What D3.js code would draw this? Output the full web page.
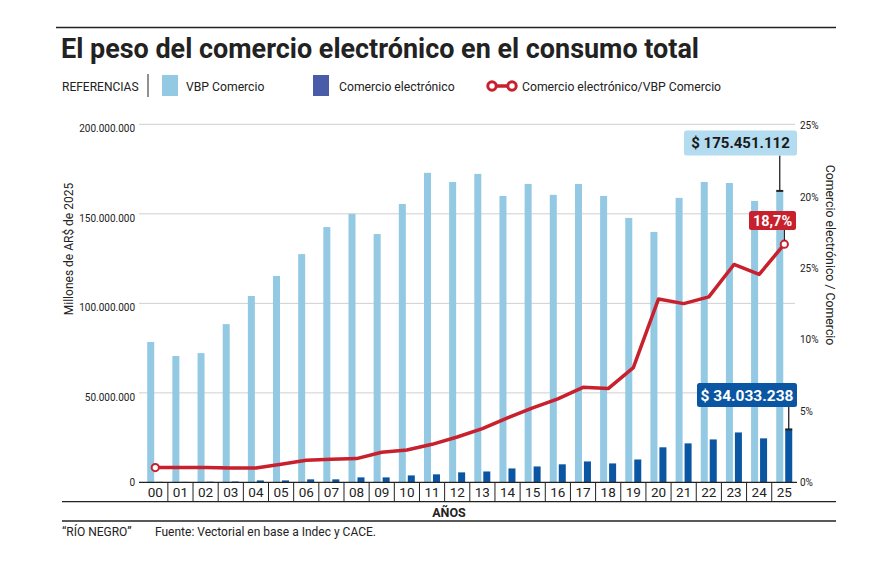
<!DOCTYPE html>
<html>
<head>
<meta charset="utf-8">
<script src="https://cdn.jsdelivr.net/npm/d3@7"></script>
<style>
  body { margin: 0; background: #fff; }
  svg { display: block; font-family: Roboto, "Noto Sans", sans-serif; }
</style>
</head>
<body>
<svg id="chart" width="893" height="577"></svg>
<script>
// data (millones de AR$ de 2025 y porcentaje)
var years = ["00","01","02","03","04","05","06","07","08","09","10","11","12",
             "13","14","15","16","17","18","19","20","21","22","23","24","25"];
var vbpComercio = [78.4, 70.6, 72.2, 88.4, 104.1, 115.3, 127.5, 142.6, 150.0, 138.7, 155.5, 172.9, 167.8,
                   172.3, 160.0, 166.7, 160.6, 166.7, 160.0, 147.7, 139.9, 158.9, 167.8, 167.2, 157.2, 162.8];
var comercioElectronico = [0.3, 0.3, 0.4, 0.5, 1.1, 1.1, 1.7, 1.7, 2.8, 2.8, 3.9, 4.5, 5.6,
                           6.1, 7.8, 8.9, 10.1, 11.7, 10.6, 12.8, 19.6, 21.8, 24.0, 27.9, 24.6, 29.6];
var ratio = [1.05, 1.05, 1.05, 1.02, 1.02, 1.28, 1.56, 1.63, 1.68, 2.12, 2.28, 2.68, 3.19,
             3.78, 4.53, 5.23, 5.86, 6.67, 6.58, 8.05, 12.86, 12.53, 13.0, 15.27, 14.57, 16.69];
var leftTicks = [0, 50, 100, 150, 200];
var leftTickLabels = ["0", "50.000.000", "100.000.000", "150.000.000", "200.000.000"];
var rightTicks = [0, 5, 10, 15, 20, 25];
var rightTickLabels = ["0%", "5%", "10%", "25%", "20%", "25%"];
var calloutVbp = "$ 175.451.112";
var calloutEc = "$ 34.033.238";
var calloutRatio = "18,7%";

var colLight = "#93c9e3", colDark = "#0b56a2", colRed = "#c8202c", colInk = "#222";

var svg = d3.select("#chart");

// scales
var x = d3.scaleBand().domain(years).range([142.7, 796.9]);
var xSub = d3.scaleBand().domain(["vbp", "ec"]).range([4.5, 20.5]).paddingInner(0.22);
var yLeft = d3.scaleLinear().domain([0, 200]).range([482.4, 124.3]);
var yRight = d3.scaleLinear().domain([0, 25]).range([482.6, 125.5]);

// top rule + title
svg.append("line").attr("x1", 56).attr("x2", 836).attr("y1", 27.5).attr("y2", 27.5)
    .attr("stroke", colInk).attr("stroke-width", 1.6);
svg.append("text").attr("x", 61).attr("y", 58)
    .attr("font-size", 27).attr("font-weight", 700).attr("fill", colInk)
    .attr("textLength", 638).attr("lengthAdjust", "spacingAndGlyphs")
    .text("El peso del comercio electrónico en el consumo total");

// legend
var leg = svg.append("g").attr("font-size", 12.2).attr("fill", colInk);
leg.append("text").attr("x", 62).attr("y", 90.5).attr("font-size", 12).text("REFERENCIAS");
leg.append("line").attr("x1", 148).attr("x2", 148).attr("y1", 74).attr("y2", 97)
    .attr("stroke", colInk).attr("stroke-width", 1);
leg.append("rect").attr("x", 162).attr("y", 75).attr("width", 16).attr("height", 21).attr("fill", colLight);
leg.append("text").attr("x", 186).attr("y", 90.5).text("VBP Comercio");
leg.append("rect").attr("x", 313).attr("y", 75).attr("width", 16).attr("height", 21).attr("fill", "#4a5ba8");
leg.append("text").attr("x", 339).attr("y", 90.5).text("Comercio electrónico");
leg.append("line").attr("x1", 492).attr("x2", 512).attr("y1", 86).attr("y2", 86)
    .attr("stroke", colRed).attr("stroke-width", 3.5);
[492, 512].forEach(function(cx) {
    leg.append("circle").attr("cx", cx).attr("cy", 86).attr("r", 4.2)
        .attr("fill", "#fff").attr("stroke", colRed).attr("stroke-width", 3);
});
leg.append("text").attr("x", 522).attr("y", 90.5).text("Comercio electrónico/VBP Comercio");

// gridlines (left axis)
svg.append("g").selectAll("line").data(leftTicks.slice(1)).enter().append("line")
    .attr("x1", 139).attr("x2", 795)
    .attr("y1", function(d) { return yLeft(d); }).attr("y2", function(d) { return yLeft(d); })
    .attr("stroke", "#cfcfcf").attr("stroke-width", 1);

// left axis
var leftAxis = svg.append("g").attr("transform", "translate(135,4)")
    .call(d3.axisLeft(yLeft).tickValues(leftTicks).tickSize(0)
        .tickFormat(function(d, i) { return leftTickLabels[i]; }));
leftAxis.select(".domain").remove();
leftAxis.selectAll("text").attr("font-size", 10).attr("fill", colInk).attr("x", 0)
    .attr("font-family", "Roboto, sans-serif");
leftAxis.selectAll(".tick").filter(function(d) { return d === 0; })
    .attr("transform", "translate(0," + (yLeft(0) - 4) + ")");

// right axis
var rightAxis = svg.append("g").attr("transform", "translate(800,0)")
    .call(d3.axisRight(yRight).tickValues(rightTicks).tickSize(0)
        .tickFormat(function(d, i) { return rightTickLabels[i]; }));
rightAxis.select(".domain").remove();
rightAxis.selectAll("text").attr("font-size", 10).attr("fill", colInk).attr("x", 0)
    .attr("font-family", "Roboto, sans-serif");

// axis titles
svg.append("text").attr("transform", "translate(73,249) rotate(-90)")
    .attr("text-anchor", "middle").attr("font-size", 12).attr("fill", colInk)
    .text("Millones de AR$ de 2025");
svg.append("text").attr("transform", "translate(826,255) rotate(90)")
    .attr("text-anchor", "middle").attr("font-size", 12.3).attr("fill", colInk)
    .text("Comercio electrónico / Comercio");

// bars
svg.append("g").selectAll("rect").data(vbpComercio).enter().append("rect")
    .attr("x", function(d, i) { return x(years[i]) + xSub("vbp"); })
    .attr("width", xSub.bandwidth())
    .attr("y", function(d) { return yLeft(d); })
    .attr("height", function(d) { return yLeft(0) - yLeft(d); })
    .attr("fill", colLight);
svg.append("g").selectAll("rect").data(comercioElectronico).enter().append("rect")
    .attr("x", function(d, i) { return x(years[i]) + xSub("ec"); })
    .attr("width", xSub.bandwidth())
    .attr("y", function(d) { return yLeft(d); })
    .attr("height", function(d) { return yLeft(0) - yLeft(d); })
    .attr("fill", colDark);

// ratio line
var line = d3.line()
    .x(function(d, i) { return x(years[i]) + x.bandwidth() / 2; })
    .y(function(d) { return yRight(d); });
svg.append("path").datum(ratio).attr("d", line)
    .attr("fill", "none").attr("stroke", colRed).attr("stroke-width", 3.5)
    .attr("stroke-linejoin", "round").attr("stroke-linecap", "round");
[0, ratio.length - 1].forEach(function(i) {
    svg.append("circle").attr("cx", x(years[i]) + x.bandwidth() / 2).attr("cy", yRight(ratio[i]))
        .attr("r", 3.6).attr("fill", "#fff").attr("stroke", colRed).attr("stroke-width", 2);
});

// x axis with separators
var xAxis = svg.append("g").attr("transform", "translate(0," + yLeft(0) + ")")
    .call(d3.axisBottom(x).tickSize(0).tickPadding(5));
xAxis.select(".domain").attr("d", "M139,0H797").attr("stroke", colInk).attr("stroke-width", 1.3);
xAxis.selectAll("text").attr("font-size", 13.5).attr("fill", colInk)
    .attr("font-family", "Roboto, sans-serif");
xAxis.selectAll(".sep").data(years.slice(1)).enter().append("line").attr("class", "sep")
    .attr("x1", function(d) { return x(d); }).attr("x2", function(d) { return x(d); })
    .attr("y1", 0).attr("y2", 19).attr("stroke", colInk).attr("stroke-width", 1);

// bottom rules and labels
svg.append("line").attr("x1", 62).attr("x2", 836).attr("y1", 501.7).attr("y2", 501.7)
    .attr("stroke", colInk).attr("stroke-width", 1.3);
svg.append("text").attr("x", 449).attr("y", 517).attr("text-anchor", "middle")
    .attr("font-size", 12.5).attr("font-weight", 700).attr("fill", colInk).text("AÑOS");
svg.append("line").attr("x1", 62).attr("x2", 836).attr("y1", 521).attr("y2", 521)
    .attr("stroke", colInk).attr("stroke-width", 1.3);
svg.append("text").attr("x", 62).attr("y", 535.5).attr("font-size", 12).attr("fill", colInk)
    .text("“RÍO NEGRO”");
svg.append("text").attr("x", 155).attr("y", 535.5).attr("font-size", 12).attr("fill", colInk)
    .text("Fuente: Vectorial en base a Indec y CACE.");

// callouts
function callout(box, text, fill, textFill, fontSize, lx, ly, cap) {
    var g = svg.append("g");
    g.append("line").attr("x1", lx).attr("x2", lx).attr("y1", box.y + box.h).attr("y2", ly)
        .attr("stroke", colInk).attr("stroke-width", 1.3);
    if (cap) {
        g.append("line").attr("x1", lx - 3.5).attr("x2", lx + 3.5).attr("y1", ly).attr("y2", ly)
            .attr("stroke", colInk).attr("stroke-width", 2);
    }
    g.append("rect").attr("x", box.x).attr("y", box.y).attr("width", box.w).attr("height", box.h)
        .attr("rx", 2.5).attr("fill", fill);
    g.append("text").attr("x", box.x + box.w / 2).attr("y", box.y + box.h / 2)
        .attr("dy", "0.36em").attr("text-anchor", "middle")
        .attr("font-size", fontSize).attr("font-weight", 700).attr("fill", textFill).text(text);
}
var last = years.length - 1;
callout({x: 684, y: 130.5, w: 113, h: 25}, calloutVbp, "#b3dcf0", "#1a1a1a", 15,
        x(years[last]) + xSub("vbp") + xSub.bandwidth() / 2, yLeft(vbpComercio[last]), true);
callout({x: 749, y: 211, w: 47, h: 19}, calloutRatio, colRed, "#fff", 14.5,
        x(years[last]) + x.bandwidth() / 2, yRight(ratio[last]) - 3.6, false);
callout({x: 697, y: 383, w: 100, h: 24}, calloutEc, colDark, "#fff", 15.5,
        x(years[last]) + xSub("ec") + xSub.bandwidth() / 2, yLeft(comercioElectronico[last]), true);
</script>
</body>
</html>
